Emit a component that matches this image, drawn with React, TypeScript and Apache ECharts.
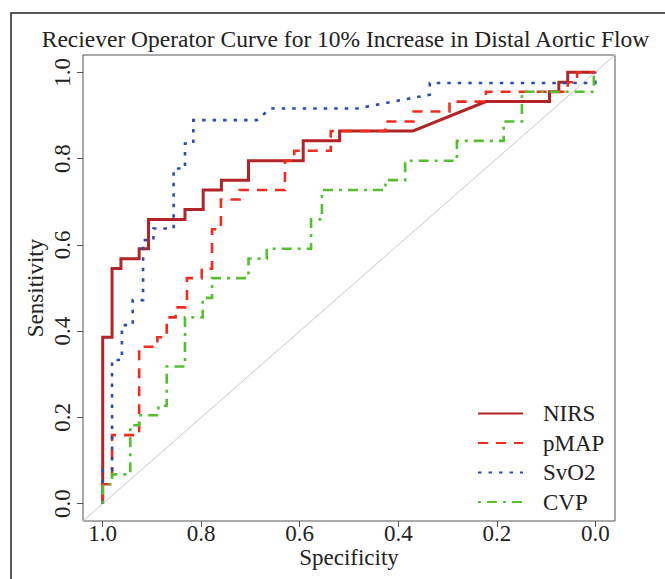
import React, { useEffect, useRef } from "react";
import * as echarts from "echarts";

const TITLE = "Reciever Operator Curve for 10% Increase in Distal Aortic Flow";
const X_NAME = "Specificity";
const Y_NAME = "Sensitivity";
const TICKS = [0, 0.2, 0.4, 0.6, 0.8, 1.0];
const SERIES_NAMES = ["NIRS", "pMAP", "SvO2", "CVP"];

// Specificity / sensitivity pairs
const nirsSpec = [1, 1, 0.981, 0.981, 0.963, 0.963, 0.926, 0.926, 0.907, 0.907, 0.833, 0.833, 0.796, 0.796, 0.759, 0.759, 0.704, 0.704, 0.593, 0.593, 0.519, 0.519, 0.37, 0.222, 0.093, 0.093, 0.074, 0.074, 0.056, 0.056, 0];
const nirsSens = [0, 0.386, 0.386, 0.545, 0.545, 0.568, 0.568, 0.591, 0.591, 0.659, 0.659, 0.682, 0.682, 0.727, 0.727, 0.75, 0.75, 0.795, 0.795, 0.841, 0.841, 0.864, 0.864, 0.932, 0.932, 0.955, 0.955, 0.977, 0.977, 1, 1];

const pmapSpec = [1, 1, 0.981, 0.981, 0.926, 0.926, 0.889, 0.889, 0.87, 0.87, 0.852, 0.852, 0.829, 0.829, 0.799, 0.799, 0.778, 0.778, 0.76, 0.76, 0.722, 0.722, 0.63, 0.63, 0.611, 0.611, 0.537, 0.537, 0.426, 0.426, 0.369, 0.369, 0.296, 0.296, 0.222, 0.222, 0.056, 0.056, 0.037, 0.037, 0];
const pmapSens = [0, 0.045, 0.045, 0.159, 0.159, 0.364, 0.364, 0.386, 0.386, 0.432, 0.432, 0.455, 0.455, 0.523, 0.523, 0.545, 0.545, 0.636, 0.636, 0.705, 0.705, 0.727, 0.727, 0.795, 0.795, 0.818, 0.818, 0.864, 0.864, 0.886, 0.886, 0.909, 0.909, 0.932, 0.932, 0.955, 0.955, 0.977, 0.977, 1, 1];

const svo2Spec = [1, 1, 0.981, 0.981, 0.961, 0.961, 0.939, 0.939, 0.918, 0.918, 0.897, 0.897, 0.856, 0.856, 0.833, 0.833, 0.816, 0.816, 0.687, 0.66, 0.484, 0.336, 0.336, 0, 0];
const svo2Sens = [0, 0.078, 0.078, 0.333, 0.333, 0.414, 0.414, 0.472, 0.472, 0.611, 0.611, 0.638, 0.638, 0.777, 0.777, 0.835, 0.835, 0.889, 0.889, 0.916, 0.916, 0.948, 0.975, 0.975, 1];

const cvpSpec = [1, 1, 0.981, 0.981, 0.944, 0.944, 0.926, 0.926, 0.887, 0.887, 0.87, 0.87, 0.833, 0.833, 0.797, 0.797, 0.778, 0.778, 0.704, 0.704, 0.667, 0.667, 0.577, 0.577, 0.555, 0.555, 0.426, 0.426, 0.386, 0.386, 0.281, 0.281, 0.186, 0.186, 0.149, 0.149, 0.003, 0.003];
const cvpSens = [0, 0.045, 0.045, 0.068, 0.068, 0.182, 0.182, 0.205, 0.205, 0.227, 0.227, 0.318, 0.318, 0.432, 0.432, 0.477, 0.477, 0.523, 0.523, 0.568, 0.568, 0.591, 0.591, 0.659, 0.659, 0.727, 0.727, 0.75, 0.75, 0.795, 0.795, 0.841, 0.841, 0.886, 0.886, 0.955, 0.955, 1];

const refSpec = [1.04, -0.04];
const refSens = [-0.04, 1.04];

const zip = (a: number[], b: number[]) => a.map((v, i) => [v, b[i]]);

const FONT = "Liberation Serif";

export default function App() {
  const ref = useRef<HTMLDivElement>(null);
  useEffect(() => {
    const chart = echarts.init(ref.current!, null, { renderer: "svg" });
    const lineSeries = (name: string, data: number[][], color: string, width: number, type: any) => ({
      name,
      type: "line",
      data,
      symbol: "none",
      showSymbol: false,
      silent: true,
      lineStyle: { color, width, type, cap: "butt", join: "miter" },
      itemStyle: { color },
    });
    chart.setOption({
      animation: false,
      backgroundColor: "#ffffff",
      grid: { left: 83, top: 55, width: 532, height: 466, show: true, borderColor: "#555", borderWidth: 1 },
      xAxis: {
        type: "value",
        inverse: true,
        min: -0.04,
        max: 1.04,
        name: X_NAME,
        nameLocation: "middle",
        nameGap: 25,
        nameMoveOverlap: false,
        nameTextStyle: { fontFamily: FONT, fontSize: 23, color: "#222" },
        axisLine: { show: false, onZero: false },
        splitLine: { show: false },
        axisTick: { show: true, customValues: TICKS, length: 6, inside: false, lineStyle: { color: "#555" } },
        axisLabel: { customValues: TICKS, formatter: (v: number) => v.toFixed(1), fontFamily: FONT, fontSize: 23, color: "#222", margin: 1 },
      },
      yAxis: {
        type: "value",
        min: -0.04,
        max: 1.04,
        name: Y_NAME,
        nameLocation: "middle",
        nameGap: 36,
        nameMoveOverlap: false,
        nameRotate: 90,
        nameTextStyle: { fontFamily: FONT, fontSize: 23, color: "#222" },
        axisLine: { show: false, onZero: false },
        splitLine: { show: false },
        axisTick: { show: true, customValues: TICKS, length: 6, inside: false, lineStyle: { color: "#555" } },
        axisLabel: { customValues: TICKS, formatter: (v: number) => v.toFixed(1), fontFamily: FONT, fontSize: 23, color: "#222", rotate: 90, margin: 9 },
      },
      legend: {
        orient: "vertical",
        left: 477,
        top: 402,
        padding: 0,
        itemWidth: 45,
        itemHeight: 14,
        itemGap: 6.5,
        data: SERIES_NAMES,
        itemStyle: { opacity: 0 },
        textStyle: { fontFamily: FONT, fontSize: 23, color: "#222", padding: [0, 0, 0, 15] },
      },
      graphic: [
        {
          type: "rect",
          shape: { x: 11, y: 13, width: 700, height: 700 },
          style: { fill: "none", stroke: "#222", lineWidth: 1.5 },
          silent: true,
        },
        {
          type: "text",
          x: 345.5,
          y: 27,
          style: { text: TITLE, fontFamily: FONT, fontSize: 23.5, fill: "#222", align: "center", verticalAlign: "top" },
          silent: true,
        },
      ],
      series: [
        {
          type: "line",
          data: zip(refSpec, refSens),
          symbol: "none",
          silent: true,
          lineStyle: { color: "#c8c8c8", width: 1 },
        },
        lineSeries("NIRS", zip(nirsSpec, nirsSens), "#b22428", 3, "solid"),
        lineSeries("pMAP", zip(pmapSpec, pmapSens), "#f52a1f", 2.6, [10, 8]),
        lineSeries("SvO2", zip(svo2Spec, svo2Sens), "#2a4cb0", 2.6, [3.5, 7]),
        lineSeries("CVP", zip(cvpSpec, cvpSens), "#55c02f", 2.6, [3, 6, 10, 6]),
      ],
    });
    return () => chart.dispose();
  }, []);
  return <div ref={ref} style={{ position: "absolute", left: 0, top: 0, width: 665, height: 579 }} />;
}
